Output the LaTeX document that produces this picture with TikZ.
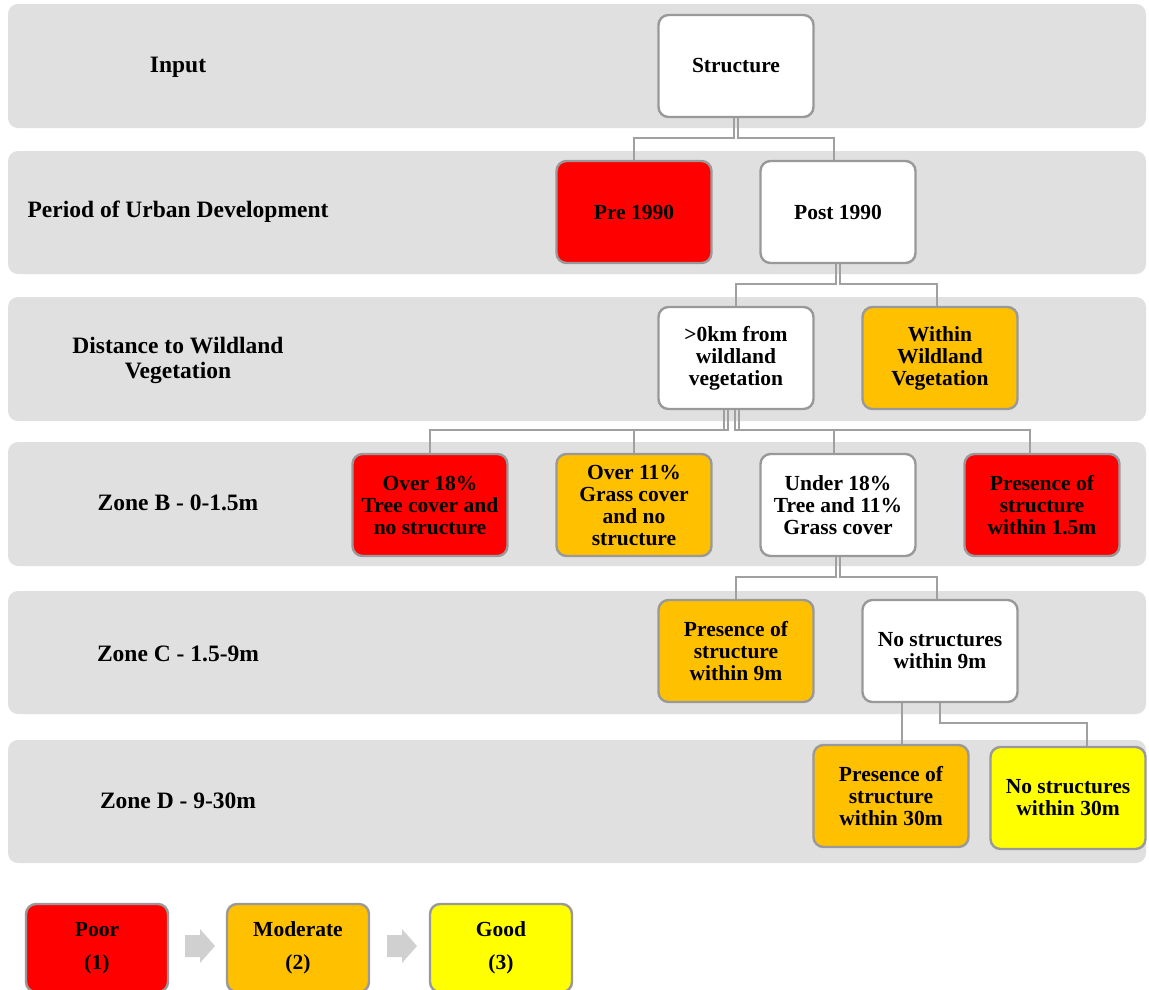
\documentclass[tikz,border=0pt]{standalone}
\usepackage{fontspec}
\setmainfont{Liberation Serif}
\definecolor{bandgray}{HTML}{E0E0E0}
\definecolor{boxgray}{HTML}{999999}
\definecolor{linegray}{HTML}{A0A0A0}
\definecolor{arrowgray}{HTML}{D0D0D0}
\definecolor{poorred}{HTML}{FF0000}
\definecolor{modorange}{HTML}{FFC000}
\definecolor{goodyellow}{HTML}{FFFF00}
\begin{document}
\begin{tikzpicture}[x=1pt,y=-1pt,
  band/.style={fill=bandgray, rounded corners=10pt},
  box/.style={draw=boxgray, line width=2.4pt, rounded corners=10pt,
    minimum width=155pt, minimum height=102pt, align=center, inner sep=2pt,
    font=\bfseries\fontsize{21.5}{22}\selectfont, fill=white},
  red/.style={fill=poorred},
  orange/.style={fill=modorange},
  yellow/.style={fill=goodyellow},
  lab/.style={align=center, font=\bfseries\fontsize{23.5}{25}\selectfont},
  legbox/.style={draw=boxgray, line width=2.4pt, rounded corners=10pt,
    minimum width=142pt, minimum height=88pt, align=center, inner sep=2pt,
    font=\bfseries\fontsize{21.5}{22}\selectfont},
  conn/.style={draw=linegray, line width=2pt},
  chevron/.style={fill=arrowgray}
]
\useasboundingbox (0,0) rectangle (1149,989);
\fill[white] (0,0) rectangle (1149,989);

% bands
\fill[band] (8,4) rectangle (1146,128);
\fill[band] (8,151) rectangle (1146,274);
\fill[band] (8,297) rectangle (1146,421);
\fill[band] (8,442) rectangle (1146,566);
\fill[band] (8,591) rectangle (1146,714);
\fill[band] (8,740) rectangle (1146,863);

% row labels
\node[lab] (l1) at (178,67) {Input};
\node[lab] (l2) at (178,212) {Period of Urban Development};
\node[lab] (l3) at (178,360) {Distance to Wildland\\Vegetation};
\node[lab] (l4) at (178,503) {Zone B - 0-1.5m};
\node[lab] (l5) at (178,654) {Zone C - 1.5-9m};
\node[lab] (l6) at (178,801) {Zone D - 9-30m};

% nodes
\node[box] (s) at (736,66) {Structure};
\node[box,red] (pre) at (634,212) {Pre 1990};
\node[box] (post) at (838,212) {Post 1990};
\node[box] (near) at (736,358) {>0km from\\wildland\\vegetation};
\node[box,orange] (within) at (940,358) {Within\\Wildland\\Vegetation};
\node[box,red] (tree) at (430,505) {Over 18\%\\Tree cover and\\no structure};
\node[box,orange] (grass) at (634,505) {Over 11\%\\Grass cover\\and no\\structure};
\node[box] (under) at (838,505) {Under 18\%\\Tree and 11\%\\Grass cover};
\node[box,red] (p15) at (1042,505) {Presence of\\structure\\within 1.5m};
\node[box,orange] (p9) at (736,651) {Presence of\\structure\\within 9m};
\node[box] (n9) at (940,651) {No structures\\within 9m};
\node[box,orange] (p30) at (891,796) {Presence of\\structure\\within 30m};
\node[box,yellow] (n30) at (1068,798) {No structures\\within 30m};

% connectors
\draw[conn] ([xshift=-2pt]s.south) -- ++(0,20) -| (pre.north);
\draw[conn] ([xshift=2pt]s.south) -- ++(0,20) -| ([xshift=-4pt]post.north);
\draw[conn] ([xshift=-2pt]post.south) -- ++(0,20) -| (near.north);
\draw[conn] ([xshift=2pt]post.south) -- ++(0,20) -| ([xshift=-3pt]within.north);
\draw[conn] ([xshift=-12pt]near.south) -- ++(0,20) -| (tree.north);
\draw[conn] ([xshift=-8pt]near.south) -- ++(0,20) -| (grass.north);
\draw[conn] ([xshift=-1pt]near.south) -- ++(0,20) -| ([xshift=-4pt]under.north);
\draw[conn] ([xshift=3pt]near.south) -- ++(0,20) -| ([xshift=-12pt]p15.north);
\draw[conn] ([xshift=-2pt]under.south) -- ++(0,20) -| (p9.north);
\draw[conn] ([xshift=2pt]under.south) -- ++(0,20) -| ([xshift=-3pt]n9.north);
\draw[conn] ([xshift=-38pt]n9.south) -- ([xshift=11pt]p30.north);
\draw[conn] (n9.south) -- ++(0,20) -| ([xshift=19pt]n30.north);

% legend
\node[legbox,red] (poor) at (97,948) {Poor\\[11pt](1)};
\node[legbox,orange] (mod) at (298,948) {Moderate\\[11pt](2)};
\node[legbox,yellow] (good) at (501,948) {Good\\[11pt](3)};
\fill[chevron] (185,935) -- (200,935) -- (200,929) -- (215,946) -- (200,963) -- (200,957) -- (185,957) -- cycle;
\fill[chevron] (387,935) -- (402,935) -- (402,929) -- (417,946) -- (402,963) -- (402,957) -- (387,957) -- cycle;
\end{tikzpicture}
\end{document}
